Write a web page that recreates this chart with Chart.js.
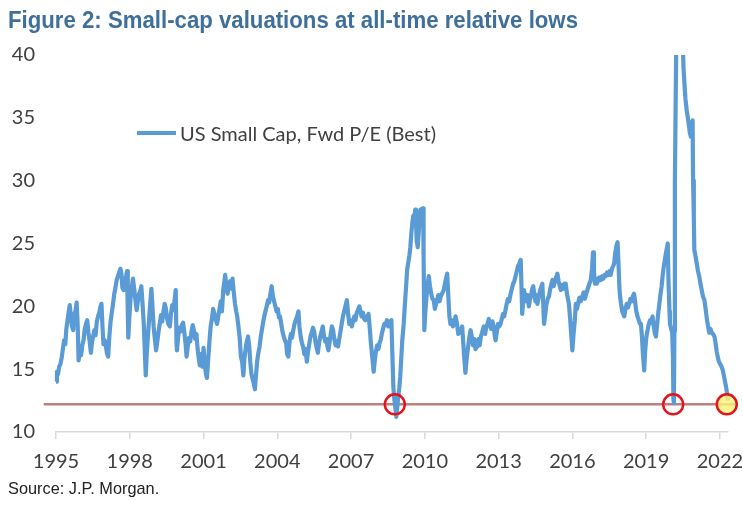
<!DOCTYPE html>
<html>
<head>
<meta charset="utf-8">
<script src="https://cdn.jsdelivr.net/npm/chart.js@4.4.0/dist/chart.umd.min.js"></script>
<style>
  html, body { margin: 0; padding: 0; background: #fff; }
  #wrap { position: relative; width: 743px; height: 517px; overflow: hidden; }
  #chart { position: absolute; left: 0; top: 0; }
  .title {
    position: absolute; left: 8px; top: 6px;
    font: bold 24px "Liberation Sans", Arial, sans-serif;
    color: #3f6f9b; white-space: nowrap;
    transform: scaleX(0.925); transform-origin: left top;
  }
  .source {
    position: absolute; left: 8px; top: 479px;
    font: 17px "Liberation Sans", Arial, sans-serif;
    color: #222; white-space: nowrap;
    transform: scaleX(0.96); transform-origin: left top;
  }
  .legend {
    position: absolute; left: 137px; top: 121px;
    font: 20px Lato, sans-serif; color: #404040; white-space: nowrap;
    display: flex; align-items: center;
  }
  .legend .swatch { width: 39px; height: 4px; background: #5b9bd5; margin-right: 4px; }
</style>
</head>
<body>
<div id="wrap">
  <canvas id="chart" width="743" height="517"></canvas>
  <div class="title">Figure 2: Small-cap valuations at all-time relative lows</div>
  <div class="legend"><span class="swatch"></span><span>US Small Cap, Fwd P/E (Best)</span></div>
  <div class="source">Source: J.P. Morgan.</div>
</div>
<script>
const SERIES_LABEL = 'US Small Cap, Fwd P/E (Best)';
const LINE_COLOR = '#5b9bd5';
const LOW_COLOR  = '#bf7f7f';
const TEXT_COLOR = '#404040';
const AXIS_COLOR = '#d9d9d9';

// year ticks shown on the x axis
const yearTicks = [1995, 1998, 2001, 2004, 2007, 2010, 2013, 2016, 2019, 2022];
const peTicks   = [10, 15, 20, 25, 30, 35, 40];

// weekly-ish readings of the forward P/E (decimal year -> value)
const years = [
  1995.00,1995.04,1995.08,1995.13,1995.18,1995.23,1995.28,1995.33,1995.38,1995.42,1995.47,1995.52,1995.56,1995.60,1995.65,1995.70,1995.74,1995.79,1995.84,1995.88,1995.92,1995.97,
  1996.02,1996.07,1996.12,1996.17,1996.22,1996.27,1996.32,1996.37,1996.42,1996.46,1996.51,1996.56,1996.61,1996.66,1996.71,1996.76,1996.81,1996.85,1996.89,1996.93,1996.98,
  1997.03,1997.08,1997.12,1997.17,1997.22,1997.27,1997.32,1997.37,1997.42,1997.47,1997.52,1997.57,1997.62,1997.66,1997.70,1997.75,1997.80,1997.85,1997.89,1997.92,1997.94,1997.98,
  1998.03,1998.08,1998.13,1998.18,1998.23,1998.28,1998.33,1998.38,1998.43,1998.47,1998.52,1998.57,1998.61,1998.65,1998.69,1998.73,1998.78,1998.83,1998.88,1998.92,1998.97,
  1999.02,1999.07,1999.12,1999.17,1999.22,1999.27,1999.32,1999.37,1999.42,1999.47,1999.52,1999.57,1999.63,1999.68,1999.73,1999.78,1999.83,1999.87,1999.90,1999.92,1999.97,
  2000.02,2000.07,2000.12,2000.17,2000.22,2000.27,2000.31,2000.36,2000.41,2000.46,2000.51,2000.56,2000.61,2000.66,2000.71,2000.76,2000.81,2000.85,2000.90,2000.95,
  2001.00,2001.05,2001.10,2001.14,2001.19,2001.24,2001.29,2001.34,2001.39,2001.44,2001.49,2001.55,2001.60,2001.65,2001.70,2001.75,2001.80,2001.85,2001.88,2001.93,2001.98,
  2002.03,2002.08,2002.13,2002.18,2002.23,2002.28,2002.33,2002.37,2002.42,2002.47,2002.52,2002.57,2002.62,2002.66,2002.71,2002.76,2002.81,2002.86,2002.90,2002.95,
  2003.00,2003.05,2003.09,2003.13,2003.18,2003.23,2003.28,2003.33,2003.38,2003.43,2003.48,2003.53,2003.57,2003.62,2003.67,2003.72,2003.77,2003.82,2003.87,2003.92,2003.97,
  2004.02,2004.07,2004.11,2004.16,2004.21,2004.26,2004.31,2004.36,2004.40,2004.45,2004.50,2004.55,2004.60,2004.65,2004.70,2004.75,2004.81,2004.86,2004.90,2004.95,
  2005.00,2005.05,2005.10,2005.15,2005.20,2005.25,2005.30,2005.35,2005.40,2005.45,2005.50,2005.55,2005.60,2005.65,2005.70,2005.75,2005.80,2005.85,2005.90,2005.95,
  2006.00,2006.04,2006.08,2006.13,2006.18,2006.22,2006.27,2006.32,2006.37,2006.42,2006.47,2006.52,2006.57,2006.62,2006.67,2006.72,2006.77,2006.83,2006.88,2006.93,2006.98,
  2007.03,2007.08,2007.13,2007.18,2007.23,2007.28,2007.34,2007.38,2007.43,2007.48,2007.53,2007.58,2007.63,2007.68,2007.71,2007.76,2007.81,2007.86,2007.92,2007.96,
  2008.01,2008.06,2008.11,2008.16,2008.20,2008.25,2008.30,2008.35,2008.40,2008.46,2008.52,2008.58,2008.64,2008.68,2008.72,2008.76,2008.81,2008.84,2008.88,2008.92,2008.96,
  2009.00,2009.04,2009.08,2009.14,2009.19,2009.24,2009.28,2009.32,2009.37,2009.41,2009.45,2009.49,2009.53,2009.57,2009.61,2009.64,2009.67,2009.71,2009.75,2009.79,2009.82,2009.86,2009.90,2009.93,2009.95,2009.98,
  2010.02,2010.07,2010.12,2010.16,2010.21,2010.26,2010.31,2010.36,2010.41,2010.46,2010.50,2010.55,2010.60,2010.65,2010.70,2010.77,2010.82,2010.86,2010.91,2010.95,
  2011.00,2011.04,2011.09,2011.14,2011.20,2011.25,2011.31,2011.36,2011.41,2011.47,2011.52,2011.56,2011.60,2011.65,2011.70,2011.75,2011.80,2011.86,2011.91,2011.96,
  2012.01,2012.06,2012.13,2012.18,2012.23,2012.28,2012.34,2012.40,2012.45,2012.50,2012.55,2012.60,2012.65,2012.70,2012.75,2012.80,2012.85,2012.88,2012.93,2012.98,
  2013.03,2013.08,2013.13,2013.18,2013.23,2013.28,2013.33,2013.38,2013.43,2013.49,2013.54,2013.59,2013.64,2013.69,2013.74,2013.79,2013.84,2013.90,2013.93,2013.96,
  2014.00,2014.03,2014.08,2014.13,2014.18,2014.23,2014.28,2014.33,2014.37,2014.41,2014.46,2014.50,2014.54,2014.58,2014.63,2014.68,2014.73,2014.78,2014.81,2014.85,2014.90,2014.95,
  2015.00,2015.05,2015.10,2015.15,2015.19,2015.24,2015.29,2015.34,2015.39,2015.44,2015.49,2015.53,2015.58,2015.63,2015.68,2015.73,2015.78,2015.82,2015.86,2015.91,2015.96,
  2016.00,2016.05,2016.10,2016.14,2016.19,2016.24,2016.29,2016.34,2016.41,2016.46,2016.51,2016.56,2016.61,2016.66,2016.71,2016.75,2016.80,2016.84,2016.88,2016.92,2016.96,2016.99,
  2017.04,2017.09,2017.16,2017.21,2017.26,2017.31,2017.36,2017.41,2017.46,2017.51,2017.56,2017.61,2017.66,2017.70,2017.74,2017.79,2017.84,2017.88,2017.91,2017.94,2017.98,
  2018.03,2018.07,2018.11,2018.16,2018.21,2018.26,2018.31,2018.36,2018.41,2018.46,2018.51,2018.55,2018.60,2018.65,2018.70,2018.75,2018.79,2018.83,2018.87,2018.92,2018.96,
  2019.01,2019.06,2019.11,2019.16,2019.21,2019.26,2019.31,2019.36,2019.40,2019.45,2019.50,2019.54,2019.58,2019.63,2019.67,2019.72,2019.77,2019.82,2019.88,2019.91,2019.95,2019.97,
  2020.02,2020.06,2020.09,2020.11,2020.13,2020.15,2020.17,2020.20,2020.23,2020.27,2020.32,2020.38,2020.44,2020.49,2020.52,2020.55,2020.60,2020.65,2020.69,2020.74,2020.78,2020.82,2020.86,2020.89,2020.91,2020.94,2020.96,
  2021.01,2021.06,2021.11,2021.16,2021.21,2021.26,2021.31,2021.37,2021.42,2021.47,2021.52,2021.57,2021.62,2021.67,2021.72,2021.78,2021.83,2021.87,2021.91,2021.96,
  2022.01,2022.07,2022.12,2022.17,2022.21,2022.25,2022.30,2022.33
];

const fwdPE = [
  14.0,14.8,14.6,15.2,15.4,15.9,16.6,17.3,17.0,18.2,18.9,19.6,20.1,19.2,18.4,18.1,19.4,19.6,20.3,18.6,15.7,16.4,
  16.1,16.9,17.3,18.2,18.6,18.9,17.9,17.2,16.3,17.1,17.6,18.1,17.7,18.8,19.2,19.5,20.0,20.2,18.4,17.0,17.3,
  16.8,16.2,16.0,17.6,18.8,19.5,20.2,21.0,21.5,22.1,22.4,22.7,23.0,22.6,21.5,21.3,22.0,22.4,22.8,19.5,17.5,19.0,
  20.6,21.5,22.2,21.4,20.5,19.7,20.4,21.0,21.2,21.6,20.2,18.6,16.5,14.5,16.2,17.4,18.8,20.2,21.4,20.1,18.4,
  17.4,16.5,17.2,18.0,18.6,19.3,18.8,19.6,20.2,19.8,19.0,18.6,18.4,19.5,20.1,19.7,20.6,21.3,17.2,16.5,17.6,
  18.3,18.0,18.5,18.7,17.9,17.0,16.0,16.8,17.5,17.2,18.0,18.5,18.1,17.4,17.8,16.6,15.8,15.3,16.2,15.2,
  16.7,15.4,14.6,14.3,15.8,17.2,18.4,19.0,19.8,19.4,19.0,18.6,19.2,19.8,20.4,19.6,21.3,22.0,22.5,21.6,21.0,
  21.6,22.0,21.4,22.2,21.1,20.2,19.6,19.2,18.4,17.5,16.0,15.6,14.5,15.8,16.6,17.2,17.6,16.8,15.6,14.6,
  14.2,13.8,13.4,14.4,15.6,16.3,16.8,17.6,18.2,18.8,19.3,19.7,20.0,20.5,20.3,21.0,21.6,20.8,20.4,20.0,19.6,
  19.8,19.1,19.2,18.6,18.0,17.6,17.3,17.1,16.2,16.0,17.2,17.8,17.5,18.1,18.6,18.9,19.2,19.6,18.4,17.6,
  17.1,16.8,16.2,16.6,15.6,16.4,17.0,17.6,17.9,18.3,18.0,17.2,16.7,16.3,17.1,17.6,18.0,18.4,17.6,17.2,
  17.4,16.8,16.5,17.2,17.9,18.4,18.1,17.4,16.9,17.2,16.8,17.4,18.0,18.6,19.2,19.6,20.0,20.5,19.4,18.6,18.9,
  18.4,18.8,19.2,18.9,19.5,19.7,20.0,19.6,19.2,19.5,19.0,18.9,19.2,19.0,19.4,18.3,17.0,16.0,14.8,15.6,
  16.4,16.9,16.6,17.1,17.3,17.8,18.2,18.6,18.5,18.9,18.4,18.7,18.9,16.2,13.6,12.6,11.8,11.2,12.0,12.8,13.5,
  14.4,15.8,17.2,18.6,20.2,21.6,22.9,23.4,24.0,24.7,25.8,26.6,27.2,27.0,27.7,26.8,25.2,24.7,25.8,27.2,27.7,27.4,27.8,27.8,24.0,18.1,
  19.5,20.8,21.8,22.4,21.6,21.0,20.6,20.5,19.8,20.2,20.5,20.9,20.4,20.8,21.0,21.3,21.8,22.2,22.6,21.0,
  19.2,18.6,18.9,18.4,18.8,19.2,18.6,17.8,18.2,17.9,18.4,17.2,16.0,14.7,15.8,16.6,17.4,18.1,17.6,16.9,
  17.4,16.6,16.8,17.4,16.9,17.6,18.0,18.4,17.8,18.3,18.6,19.0,18.6,18.2,18.8,18.4,17.6,17.3,18.0,18.6,
  18.4,18.6,19.0,19.4,19.2,19.7,20.2,20.6,20.4,21.0,21.4,21.8,22.0,22.4,22.8,23.2,23.4,23.7,21.6,19.4,
  20.4,21.3,20.8,20.4,20.9,20.0,20.6,21.0,21.4,21.6,20.8,20.4,20.9,20.2,20.7,21.2,21.5,21.8,20.4,18.6,19.4,20.2,
  20.6,20.8,21.4,21.8,22.1,21.6,22.0,22.3,22.6,22.0,21.6,21.3,21.7,21.4,21.8,21.8,21.0,20.6,20.2,19.0,17.6,
  16.5,17.8,18.9,20.2,19.8,20.3,20.7,20.4,20.8,21.1,20.6,21.0,21.3,21.6,21.9,22.1,23.0,24.3,22.8,21.8,22.2,21.8,
  22.0,22.3,22.1,22.4,22.2,22.5,22.4,22.7,22.5,22.8,22.5,23.0,23.2,23.4,24.2,24.8,25.1,23.2,21.6,20.8,20.2,
  19.6,19.4,19.2,19.8,20.2,19.9,20.2,20.6,20.4,20.8,21.0,20.4,19.6,19.2,18.9,18.6,18.6,17.6,16.2,14.9,16.4,
  17.6,18.1,18.6,18.9,18.7,19.2,18.4,17.8,17.6,18.6,19.6,20.2,20.9,21.6,22.4,23.2,23.8,24.4,25.0,22.0,19.6,18.6,
  18.2,17.9,16.0,12.6,12.3,18.0,29.8,36.0,41.5,44.0,45.0,44.0,43.0,41.0,39.0,38.0,36.5,35.6,35.1,34.4,33.8,33.5,34.2,34.8,30.0,27.0,24.5,
  24.0,23.4,22.8,22.4,21.8,21.3,20.8,20.5,19.8,19.0,18.4,17.9,18.2,17.9,17.8,17.6,17.0,16.4,16.0,15.6,
  15.4,15.2,14.9,14.4,14.0,13.6,13.0,12.5
];

// the relative-low threshold line and the circled lows
const lowLevel     = 12.2;
const lowLineYears = [1994.5, 2022.7];
const lowYears     = [2008.78, 2020.1, 2022.28];
const lowFills     = ['rgba(255,255,255,0)', 'rgba(255,255,255,0)', 'rgba(255,243,120,0.8)'];

const seriesPoints  = years.map((x, i) => ({ x, y: fwdPE[i] }));
const lowLinePoints = lowLineYears.map(x => ({ x, y: lowLevel }));
const lowPoints     = lowYears.map(x => ({ x, y: lowLevel }));

new Chart(document.getElementById('chart').getContext('2d'), {
  type: 'line',
  data: {
    datasets: [
      {
        label: 'lows',
        data: lowPoints,
        showLine: false,
        pointRadius: 10,
        pointBorderWidth: 2.5,
        pointBorderColor: '#e3141b',
        pointBackgroundColor: lowFills,
        clip: false,
        order: 0,
      },
      {
        label: SERIES_LABEL,
        data: seriesPoints,
        borderColor: LINE_COLOR,
        borderWidth: 4.2,
        pointRadius: 0,
        tension: 0,
        borderJoinStyle: 'round',
        clip: { left: 4, top: 0, right: 6, bottom: 20 },
        order: 1,
      },
      {
        label: 'threshold',
        data: lowLinePoints,
        borderColor: LOW_COLOR,
        borderWidth: 2.5,
        pointRadius: 0,
        clip: false,
        order: 2,
      },
    ],
  },
  options: {
    responsive: false,
    animation: false,
    devicePixelRatio: 1,
    layout: { autoPadding: false, padding: { left: 0, right: 15, top: 55, bottom: 35 } },
    plugins: {
      legend: { display: false },
      tooltip: { enabled: false },
    },
    scales: {
      x: {
        type: 'linear',
        min: 1995,
        max: 2022.33,
        afterFit: s => { s.height = 50; s.paddingLeft = 0; s.paddingRight = 0; },
        afterBuildTicks: s => { s.ticks = yearTicks.map(value => ({ value })); },
        grid: { display: true, drawOnChartArea: false, drawTicks: true, tickLength: 7, color: AXIS_COLOR, lineWidth: 1.5 },
        border: { display: true, color: AXIS_COLOR, width: 1.5 },
        ticks: {
          includeBounds: false,
          color: TEXT_COLOR,
          font: { family: 'Lato', size: 20 },
          padding: 11,
          maxRotation: 0,
          autoSkip: false,
          callback: v => String(v),
        },
      },
      y: {
        min: 10,
        max: 40,
        afterFit: s => { s.width = 56; s.paddingTop = 0; s.paddingBottom = 0; },
        afterBuildTicks: s => { s.ticks = peTicks.map(value => ({ value })); },
        grid: { display: false, drawTicks: false },
        border: { display: false },
        ticks: {
          color: TEXT_COLOR,
          font: { family: 'Lato', size: 20 },
          padding: 21,
          callback: v => String(v),
        },
      },
    },
  },
});
</script>
</body>
</html>
